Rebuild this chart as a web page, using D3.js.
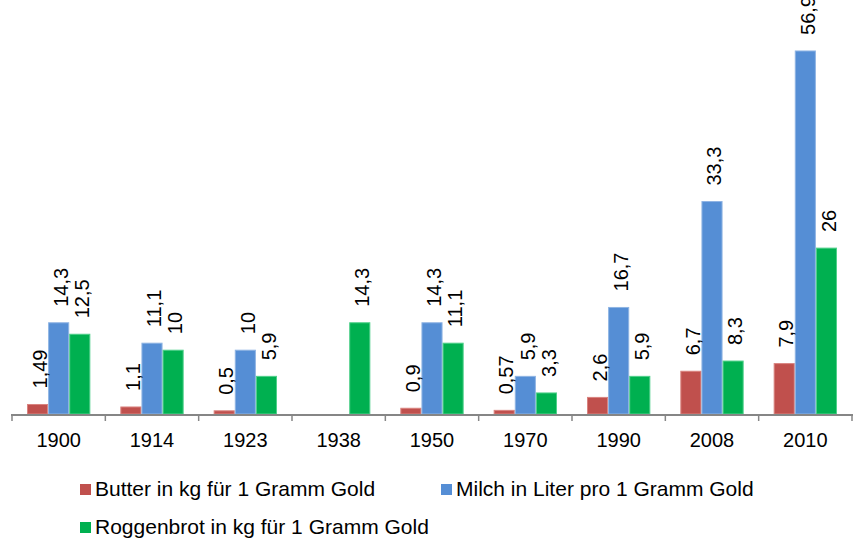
<!DOCTYPE html>
<html>
<head>
<meta charset="utf-8">
<script src="https://cdn.jsdelivr.net/npm/d3@7"></script>
<style>
  body { margin: 0; background: #fff; }
  svg { display: block; font-family: "Liberation Sans", Arial, sans-serif; }
</style>
</head>
<body>
<svg id="chart" width="855" height="539"></svg>
<script>
var years = ['1900', '1914', '1923', '1938', '1950', '1970', '1990', '2008', '2010'];
var butter = [1.49, 1.1, 0.5, null, 0.9, 0.57, 2.6, 6.7, 7.9];
var milch = [14.3, 11.1, 10, null, 14.3, 5.9, 16.7, 33.3, 56.9];
var brot = [12.5, 10, 5.9, 14.3, 11.1, 3.3, 5.9, 8.3, 26];
var seriesNames = ['Butter in kg für 1 Gramm Gold', 'Milch in Liter pro 1 Gramm Gold', 'Roggenbrot in kg für 1 Gramm Gold'];

var colors = ['#C0504D', '#558ED5', '#00B050'];
var strokes = ['#d9837f', '#8fb4e3', '#4fd08a'];

var svg = d3.select('#chart');
var axisY = 415;

var x0 = d3.scaleBand().domain(years).range([12, 852]);
var gap = 15;
var x1 = d3.scaleBand().domain([0, 1, 2]).range([gap, x0.bandwidth() - gap]);
var y = d3.scaleLinear().domain([0, 60]).range([axisY - 1, axisY - 1 - 60 * 6.38]);

var series = [butter, milch, brot];
var fmt = function(v) { return String(v).replace('.', ','); };

var groups = svg.append('g').selectAll('g')
  .data(years)
  .enter().append('g')
  .attr('transform', function(d) { return 'translate(' + x0(d) + ',0)'; });

groups.each(function(year, i) {
  var g = d3.select(this);
  var vals = series.map(function(s, k) { return { k: k, v: s[i] }; })
    .filter(function(d) { return d.v != null; });

  g.selectAll('rect')
    .data(vals)
    .enter().append('rect')
    .attr('x', function(d) { return x1(d.k) + 0.5; })
    .attr('y', function(d) { return y(d.v); })
    .attr('width', x1.bandwidth() - 1)
    .attr('height', function(d) { return y(0) - y(d.v); })
    .attr('fill', function(d) { return colors[d.k]; })
    .attr('stroke', function(d) { return strokes[d.k]; })
    .attr('stroke-width', 1);

  g.selectAll('text')
    .data(vals)
    .enter().append('text')
    .attr('transform', function(d) {
      return 'translate(' + (x1(d.k) + x1.bandwidth() / 2 + 2) + ',' + (y(d.v) - 16) + ') rotate(-90)';
    })
    .attr('dy', '0.36em')
    .attr('font-size', 20)
    .attr('fill', '#000')
    .text(function(d) { return fmt(d.v); });
});

// x axis
var xAxis = svg.append('g').attr('transform', 'translate(0,' + axisY + ')');
xAxis.append('line')
  .attr('x1', 11).attr('x2', 853)
  .attr('stroke', '#868686').attr('stroke-width', 2);
xAxis.selectAll('line.tick')
  .data(d3.range(years.length + 1))
  .enter().append('line')
  .attr('class', 'tick')
  .attr('x1', function(i) { return 12 + i * x0.step(); })
  .attr('x2', function(i) { return 12 + i * x0.step(); })
  .attr('y1', 0).attr('y2', 6)
  .attr('stroke', '#868686').attr('stroke-width', 1.5);
xAxis.selectAll('text')
  .data(years)
  .enter().append('text')
  .attr('x', function(d) { return x0(d) + x0.bandwidth() / 2; })
  .attr('y', 32)
  .attr('text-anchor', 'middle')
  .attr('font-size', 20)
  .attr('fill', '#000')
  .text(function(d) { return d; });

// legend
var legendPos = [[80, 496], [441, 496], [80, 534]];
var legend = svg.append('g').selectAll('g')
  .data(seriesNames)
  .enter().append('g')
  .attr('transform', function(d, i) { return 'translate(' + legendPos[i][0] + ',' + legendPos[i][1] + ')'; });
legend.append('rect')
  .attr('x', 0).attr('y', -12)
  .attr('width', 11).attr('height', 11)
  .attr('fill', function(d, i) { return colors[i]; });
legend.append('text')
  .attr('x', 15)
  .attr('font-size', 21)
  .attr('fill', '#000')
  .text(function(d) { return d; });
</script>
</body>
</html>
